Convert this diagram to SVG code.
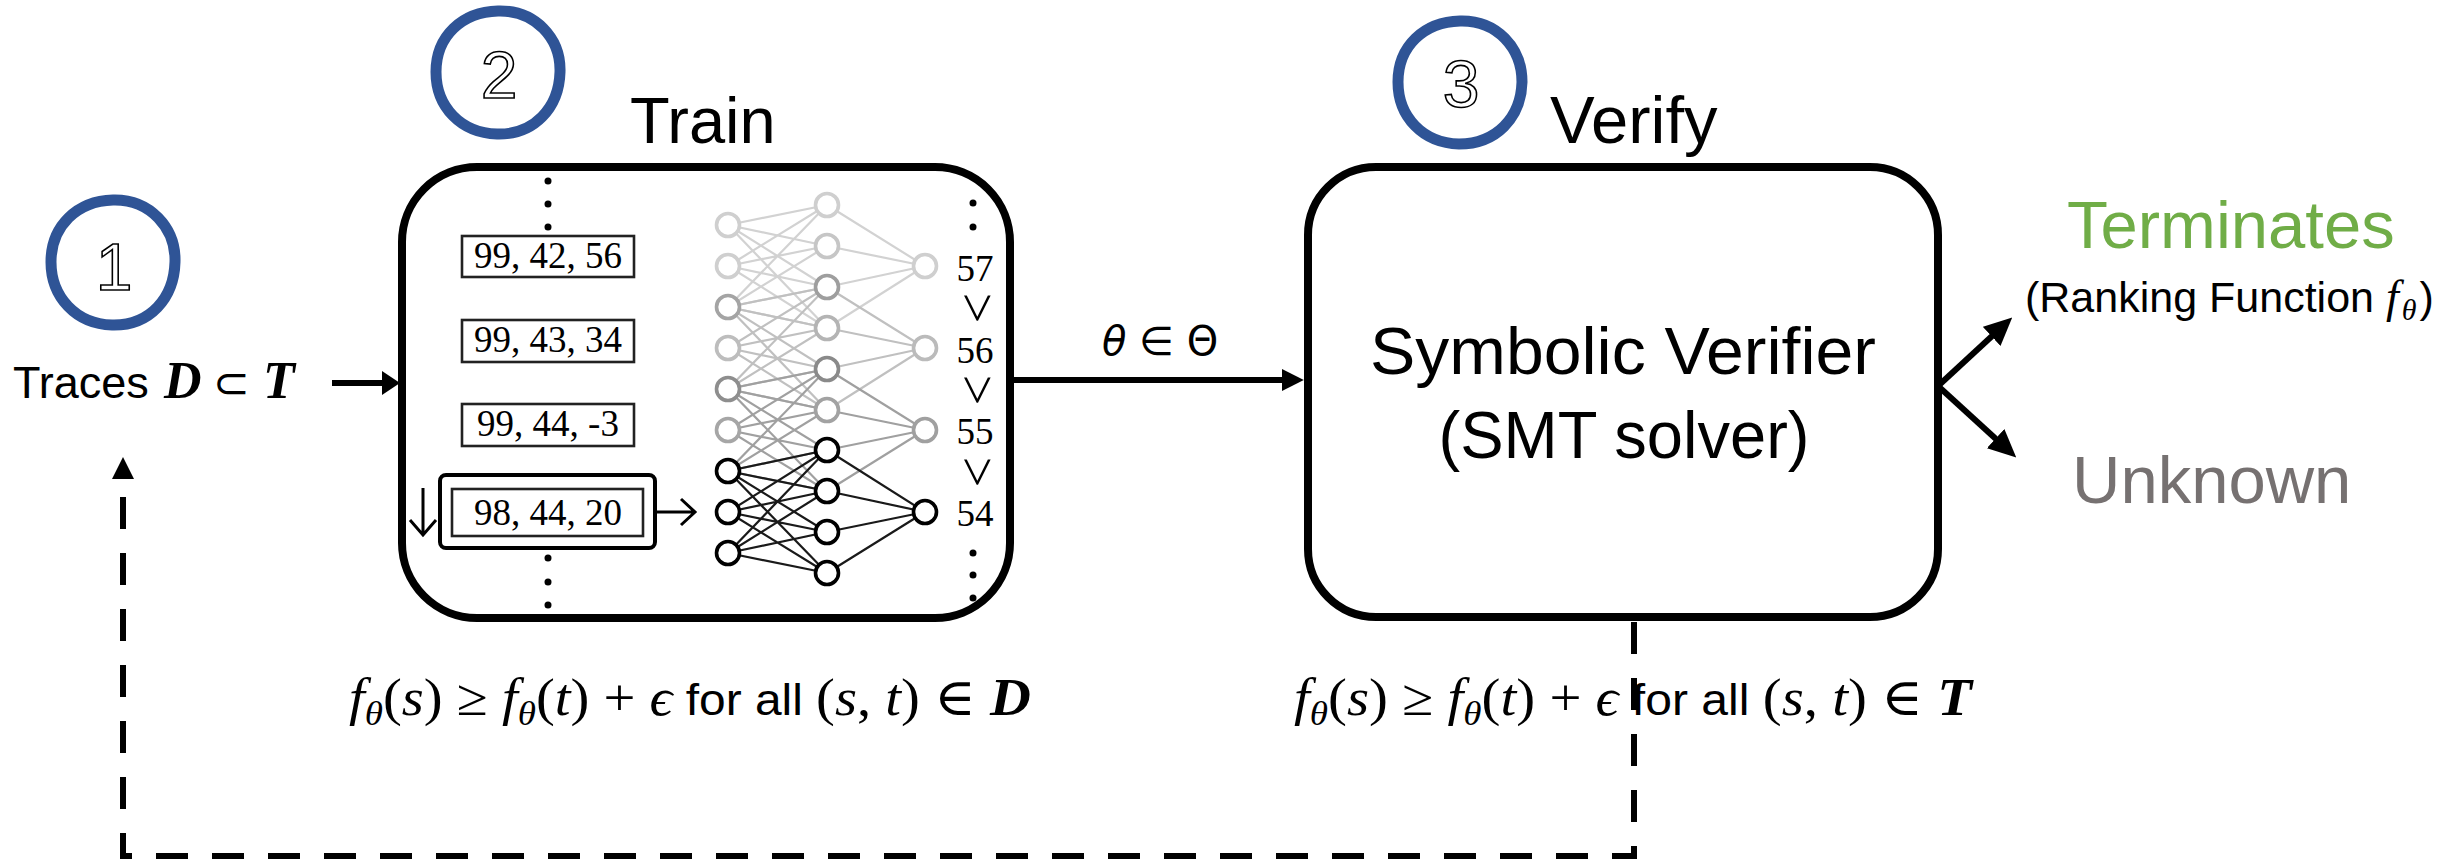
<svg xmlns="http://www.w3.org/2000/svg" width="2461" height="862" viewBox="0 0 2461 862">
<style>
.sans{font-family:"Liberation Sans",Arial,sans-serif}
.serif{font-family:"Liberation Serif","Times New Roman",serif}
.it{font-family:"Liberation Serif","DejaVu Serif",serif;font-style:italic}
.bi{font-family:"Liberation Serif","DejaVu Serif",serif;font-style:italic;font-weight:bold}
.sub{font-size:34px}
.badge{fill:none;stroke:#2F5496;stroke-width:11}
.digit{font-family:"Liberation Sans",Arial,sans-serif;font-size:66px;fill:#fff;stroke:#000;stroke-width:1.6;text-anchor:middle}
.box{fill:#fff;stroke:#000;stroke-width:8}
.nb{fill:#fff;stroke:#222;stroke-width:2.6}
.num{font-family:"Liberation Serif","Times New Roman",serif;font-size:37px;text-anchor:middle;fill:#000}
.gt{font-family:"Liberation Serif","Times New Roman",serif;font-size:54px;text-anchor:middle;fill:#000}
.dot{fill:#000}
.e57{stroke:#d2d2d2}.e56{stroke:#c0c0c0}.e55{stroke:#a0a0a0}.e54{stroke:#1a1a1a}
.edges path{fill:none;stroke-width:2.2}
.nodes circle{fill:#fff;stroke-width:3.6}
.conn{fill:none;stroke:#000;stroke-width:6}
.math{font-family:"Liberation Serif","DejaVu Serif",serif;font-size:52px;fill:#000}
</style>
<defs>
<marker id="a1" viewBox="0 0 10 10" refX="6" refY="5" markerWidth="22" markerHeight="22" markerUnits="userSpaceOnUse" orient="auto" preserveAspectRatio="none"><path d="M0,0L10,5L0,10z" fill="#000"/></marker>
<marker id="a2" viewBox="0 0 10 10" refX="5" refY="5" markerWidth="18" markerHeight="24" markerUnits="userSpaceOnUse" orient="auto" preserveAspectRatio="none"><path d="M0,0L10,5L0,10z" fill="#000"/></marker>
<marker id="a3" viewBox="0 0 10 10" refX="6" refY="5" markerWidth="28" markerHeight="26" markerUnits="userSpaceOnUse" orient="auto" preserveAspectRatio="none"><path d="M0,0L10,5L0,10z" fill="#000"/></marker>
<marker id="a4" viewBox="0 0 10 10" refX="0" refY="5" markerWidth="22" markerHeight="22" markerUnits="userSpaceOnUse" orient="auto" preserveAspectRatio="none"><path d="M0,0L10,5L0,10z" fill="#000"/></marker>
</defs>
<rect width="2461" height="862" fill="#fff"/>

<g id="step1">
<path class="badge" d="M113 200C150 199 176 228 175 262C174 298 150 326 112 325C76 324 51 297 51 262C51 226 77 201 113 200Z"/>
<text class="digit" x="114" y="290">1</text>
<text class="sans" x="13" y="398" font-size="45">Traces <tspan class="bi" font-size="52" x="164">D</tspan><tspan font-family="DejaVu Sans,sans-serif" font-size="44" x="213">⊂</tspan><tspan class="bi" font-size="52" x="263">T</tspan></text>
</g>

<g id="step2-train">
<path class="badge" d="M498 11C535 10 561 38 560 72C559 108 534 135 497 134C461 133 436 107 436 72C436 36 462 12 498 11Z"/>
<text class="digit" x="499" y="98">2</text>
<text class="sans" x="630" y="143" font-size="65">Train</text>
<rect class="box" x="402" y="167" width="608" height="451" rx="75"/>
<g>
<circle class="dot" cx="548" cy="181" r="3.5"/><circle class="dot" cx="548" cy="204" r="3.5"/><circle class="dot" cx="548" cy="227" r="3.5"/>
<circle class="dot" cx="548" cy="558" r="3.5"/><circle class="dot" cx="548" cy="582" r="3.5"/><circle class="dot" cx="548" cy="605" r="3.5"/>
<rect class="nb" x="462" y="236" width="172" height="41"/>
<text class="num" x="548" y="268">99, 42, 56</text>
<rect class="nb" x="462" y="320" width="172" height="42"/>
<text class="num" x="548" y="352">99, 43, 34</text>
<rect class="nb" x="462" y="404" width="172" height="42"/>
<text class="num" x="548" y="436">99, 44, -3</text>
<rect x="440" y="475" width="215" height="73" rx="6" fill="#fff" stroke="#000" stroke-width="4"/>
<rect class="nb" x="452" y="489" width="191" height="47"/>
<text class="num" x="548" y="525" font-size="43">98, 44, 20</text>
<path d="M423 488V534M410 520L423 535L436 520" fill="none" stroke="#000" stroke-width="3"/>
<path d="M655 512H694M681 499L695 512L681 525" fill="none" stroke="#000" stroke-width="3"/>
</g>
<g class="edges">
<path class="e57" d="M728 225L827 205M728 225L827 246M728 225L827 287M728 225L827 328M728 266L827 205M728 266L827 246M728 266L827 287M728 266L827 328M728 307L827 205M728 307L827 246M728 307L827 287M728 307L827 328M827 205L925 266M827 246L925 266M827 287L925 266M827 328L925 266"/>
<path class="e56" d="M728 307L827 287M728 307L827 328M728 307L827 369M728 307L827 410M728 348L827 287M728 348L827 328M728 348L827 369M728 348L827 410M728 389L827 287M728 389L827 328M728 389L827 369M728 389L827 410M827 287L925 348M827 328L925 348M827 369L925 348M827 410L925 348"/>
<path class="e55" d="M728 389L827 369M728 389L827 410M728 389L827 450M728 389L827 491M728 430L827 369M728 430L827 410M728 430L827 450M728 430L827 491M728 471L827 369M728 471L827 410M728 471L827 450M728 471L827 491M827 369L925 430M827 410L925 430M827 450L925 430M827 491L925 430"/>
<path class="e54" d="M728 471L827 450M728 471L827 491M728 471L827 532M728 471L827 573M728 512L827 450M728 512L827 491M728 512L827 532M728 512L827 573M728 553L827 450M728 553L827 491M728 553L827 532M728 553L827 573M827 450L925 512M827 491L925 512M827 532L925 512M827 573L925 512"/>
</g>
<g class="nodes">
<circle cx="728" cy="225" r="11.5" stroke="#cfcfcf"/>
<circle cx="728" cy="266" r="11.5" stroke="#cfcfcf"/>
<circle cx="728" cy="307" r="11.5" stroke="#a4a4a4"/>
<circle cx="728" cy="348" r="11.5" stroke="#bdbdbd"/>
<circle cx="728" cy="389" r="11.5" stroke="#8e8e8e"/>
<circle cx="728" cy="430" r="11.5" stroke="#a6a6a6"/>
<circle cx="728" cy="471" r="11.5" stroke="#000"/>
<circle cx="728" cy="512" r="11.5" stroke="#000"/>
<circle cx="728" cy="553" r="11.5" stroke="#000"/>
<circle cx="827" cy="205" r="11.5" stroke="#cfcfcf"/>
<circle cx="827" cy="246" r="11.5" stroke="#c6c6c6"/>
<circle cx="827" cy="287" r="11.5" stroke="#9e9e9e"/>
<circle cx="827" cy="328" r="11.5" stroke="#b4b4b4"/>
<circle cx="827" cy="369" r="11.5" stroke="#8a8a8a"/>
<circle cx="827" cy="410" r="11.5" stroke="#a2a2a2"/>
<circle cx="827" cy="450" r="11.5" stroke="#000"/>
<circle cx="827" cy="491" r="11.5" stroke="#000"/>
<circle cx="827" cy="532" r="11.5" stroke="#000"/>
<circle cx="827" cy="573" r="11.5" stroke="#000"/>
<circle cx="925" cy="266" r="11.5" stroke="#cfcfcf"/>
<circle cx="925" cy="348" r="11.5" stroke="#bbbbbb"/>
<circle cx="925" cy="430" r="11.5" stroke="#a0a0a0"/>
<circle cx="925" cy="512" r="11.5" stroke="#000"/>
</g>
<g>
<circle class="dot" cx="973" cy="203" r="3.5"/><circle class="dot" cx="973" cy="227" r="3.5"/>
<circle class="dot" cx="973" cy="553" r="3.5"/><circle class="dot" cx="973" cy="575" r="3.5"/><circle class="dot" cx="973" cy="598" r="3.5"/>
<text class="num" x="975" y="281" font-size="42">57</text>
<text class="num" x="975" y="363" font-size="42">56</text>
<text class="num" x="975" y="444" font-size="42">55</text>
<text class="num" x="975" y="526" font-size="42">54</text>
<text class="gt" transform="translate(973,308) rotate(90)" y="14">&gt;</text>
<text class="gt" transform="translate(973,390) rotate(90)" y="14">&gt;</text>
<text class="gt" transform="translate(973,472) rotate(90)" y="14">&gt;</text>
</g>
<text class="math" x="349" y="715" textLength="682" lengthAdjust="spacingAndGlyphs"><tspan class="it">f</tspan><tspan class="it sub" dy="10">θ</tspan><tspan dy="-10">(</tspan><tspan class="it">s</tspan><tspan>) ≥ </tspan><tspan class="it">f</tspan><tspan class="it sub" dy="10">θ</tspan><tspan dy="-10">(</tspan><tspan class="it">t</tspan><tspan>) + </tspan><tspan class="it">ϵ</tspan><tspan class="sans" font-size="44"> for all </tspan><tspan>(</tspan><tspan class="it">s</tspan><tspan>, </tspan><tspan class="it">t</tspan><tspan>) ∈ </tspan><tspan class="bi">D</tspan></text>
</g>

<g id="step3-verify">
<path class="badge" d="M1460 21C1497 20 1522 48 1522 82C1521 118 1496 144 1459 144C1423 143 1398 117 1398 82C1398 46 1424 22 1460 21Z"/>
<text class="digit" x="1461" y="107">3</text>
<text class="sans" x="1550" y="143" font-size="67">Verify</text>
<rect class="box" x="1308" y="167" width="630" height="450" rx="68"/>
<text class="sans" x="1623" y="374" font-size="66" text-anchor="middle" textLength="506" lengthAdjust="spacingAndGlyphs">Symbolic Verifier</text>
<text class="sans" x="1624" y="458" font-size="66" text-anchor="middle" textLength="371" lengthAdjust="spacingAndGlyphs">(SMT solver)</text>
<text class="math" x="1294" y="715" textLength="678" lengthAdjust="spacingAndGlyphs"><tspan class="it">f</tspan><tspan class="it sub" dy="10">θ</tspan><tspan dy="-10">(</tspan><tspan class="it">s</tspan><tspan>) ≥ </tspan><tspan class="it">f</tspan><tspan class="it sub" dy="10">θ</tspan><tspan dy="-10">(</tspan><tspan class="it">t</tspan><tspan>) + </tspan><tspan class="it">ϵ</tspan><tspan class="sans" font-size="44"> for all </tspan><tspan>(</tspan><tspan class="it">s</tspan><tspan>, </tspan><tspan class="it">t</tspan><tspan>) ∈ </tspan><tspan class="bi">T</tspan></text>
</g>

<g id="out-terminates">
<text class="sans" x="2067" y="248" font-size="67" fill="#70AD47">Terminates</text>
<text class="sans" x="2025" y="312" font-size="43">(Ranking Function <tspan class="it" font-size="46">f</tspan><tspan class="it" font-size="30" dx="3" dy="8">θ</tspan><tspan dx="3" dy="-8">)</tspan></text>
</g>
<g id="out-unknown">
<text class="sans" x="2072" y="503" font-size="67" fill="#767171">Unknown</text>
</g>

<g id="connectors">
<path class="conn" d="M332 383H391" marker-end="url(#a2)"/>
<text x="1102" y="355" font-family="DejaVu Sans,sans-serif" font-size="40"><tspan font-style="italic">θ</tspan> ∈ Θ</text>
<path class="conn" d="M1010 380H1295" marker-end="url(#a1)"/>
<path class="conn" d="M1938 386L2004 325" marker-end="url(#a3)"/>
<path class="conn" d="M1938 386L2008 450" marker-end="url(#a3)"/>
<path class="conn" d="M1634 618V856H123V479" stroke-width="8" stroke-dasharray="32 24" stroke-dashoffset="52" marker-end="url(#a4)"/>
</g>
</svg>
